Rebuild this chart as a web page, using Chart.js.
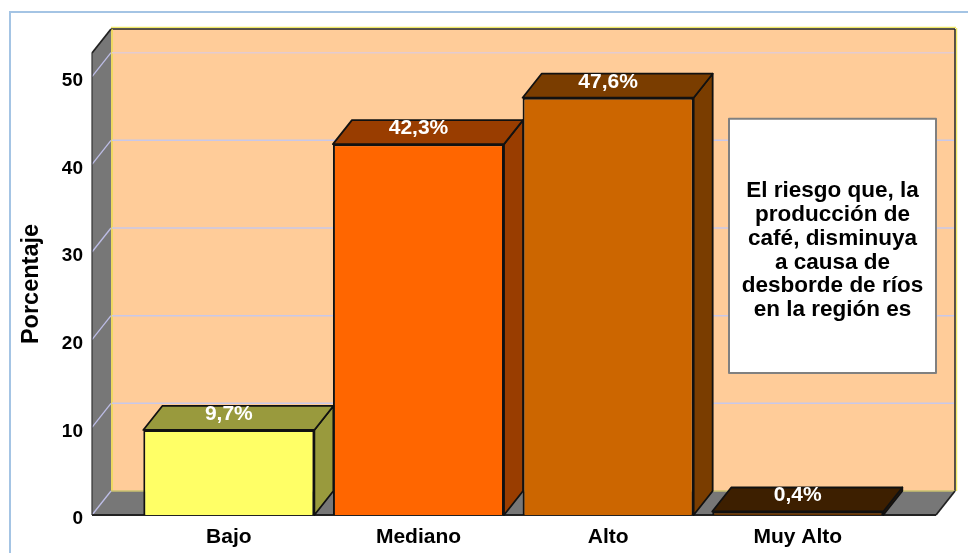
<!DOCTYPE html>
<html>
<head>
<meta charset="utf-8">
<style>
  html, body { margin: 0; padding: 0; background: #fff; overflow: hidden; }
</style>
<script src="https://cdn.jsdelivr.net/npm/chart.js@4"></script>
</head>
<body>
<canvas id="chart" width="968" height="553"></canvas>
<script>
const categories = ["Bajo", "Mediano", "Alto", "Muy Alto"];
const values = [9.7, 42.3, 47.6, 0.4];
const yTicks = [0, 10, 20, 30, 40, 50];
const noteLines = ["El riesgo que, la", "producción de", "café, disminuya", "a causa de", "desborde de ríos", "en la región es"];

const frontColors = ["#FFFF66", "#FF6600", "#CC6600", "#663300"];
const shadeColors = ["#999A3D", "#993D00", "#7A3D00", "#3D1F00"];

const FONT = '"Liberation Sans", Arial, sans-serif';
const DEPTH_X = 19;
const DEPTH_Y = 24;
const INSET_L = 42; // the floor runs a bit past the first and last category
const INSET_R = 43.4;

function poly(ctx, pts, fill, stroke, lw) {
  ctx.beginPath();
  pts.forEach((p, i) => i ? ctx.lineTo(p[0], p[1]) : ctx.moveTo(p[0], p[1]));
  ctx.closePath();
  if (fill) { ctx.fillStyle = fill; ctx.fill(); }
  if (stroke) { ctx.strokeStyle = stroke; ctx.lineWidth = lw || 1.8; ctx.lineJoin = "round"; ctx.stroke(); }
}

function line(ctx, x1, y1, x2, y2, color, lw) {
  ctx.beginPath();
  ctx.moveTo(x1, y1);
  ctx.lineTo(x2, y2);
  ctx.strokeStyle = color;
  ctx.lineWidth = lw;
  ctx.stroke();
}

// page frame, walls, floor and grid
const wallsPlugin = {
  id: "walls",
  beforeDatasetsDraw(chart) {
    const ctx = chart.ctx;
    const area = chart.chartArea;
    const y = chart.scales.y;
    const l = area.left - INSET_L, r = area.right + INSET_R;
    const t = area.top, b = y.getPixelForValue(0);
    ctx.save();

    // frame
    line(ctx, 10, 12, 968, 12, "#A4C4E4", 2);
    line(ctx, 10, 11, 10, 553, "#A4C4E4", 2);

    // back wall
    poly(ctx, [[l + DEPTH_X, t - DEPTH_Y], [r + DEPTH_X, t - DEPTH_Y], [r + DEPTH_X, b - DEPTH_Y], [l + DEPTH_X, b - DEPTH_Y]], "#FFCC99");
    // side wall
    poly(ctx, [[l, t], [l + DEPTH_X, t - DEPTH_Y], [l + DEPTH_X, b - DEPTH_Y], [l, b]], "#777777");
    // floor
    poly(ctx, [[l, b], [l + DEPTH_X, b - DEPTH_Y], [r + DEPTH_X, b - DEPTH_Y], [r, b]], "#777777");

    // wall edges
    line(ctx, l + DEPTH_X, t - DEPTH_Y - 1.5, r + DEPTH_X + 1, t - DEPTH_Y - 1.5, "#F0E868", 1.5);
    line(ctx, r + DEPTH_X + 1.5, t - DEPTH_Y - 1, r + DEPTH_X + 1.5, b - DEPTH_Y, "#F0E868", 1.5);
    line(ctx, l + DEPTH_X, t - DEPTH_Y, r + DEPTH_X, t - DEPTH_Y, "#222222", 1.5);
    line(ctx, r + DEPTH_X, t - DEPTH_Y, r + DEPTH_X, b - DEPTH_Y, "#222222", 1.5);
    line(ctx, l + DEPTH_X + 1, t - DEPTH_Y, l + DEPTH_X + 1, b - DEPTH_Y, "#E8DC50", 1.5);
    line(ctx, l + DEPTH_X, b - DEPTH_Y, r + DEPTH_X, b - DEPTH_Y, "#C8C070", 1.5);

    // grid
    yTicks.forEach(v => {
      const py = y.getPixelForValue(v);
      line(ctx, l, py, l + DEPTH_X, py - DEPTH_Y, "#BDBDE6", 1.3);
      if (v > 0) {
        line(ctx, l + DEPTH_X + 1, py - DEPTH_Y, r + DEPTH_X - 1, py - DEPTH_Y, v === 50 ? "#E4CBD0" : "#C8C8EA", 1.5);
      }
    });

    // outer edges
    line(ctx, l, b, r, b, "#222222", 1.8);
    line(ctx, r, b, r + DEPTH_X, b - DEPTH_Y, "#222222", 1.8);
    line(ctx, l, t, l + DEPTH_X, t - DEPTH_Y, "#222222", 1.8);
    line(ctx, l, t, l, b, "#333333", 1.2);
    ctx.restore();
  }
};

// 3D faces, value labels and the note box
const facesPlugin = {
  id: "faces",
  afterDatasetsDraw(chart) {
    const ctx = chart.ctx;
    const area = chart.chartArea;
    const y = chart.scales.y;
    ctx.save();

    chart.getDatasetMeta(0).data.forEach((bar, i) => {
      const x1 = bar.x - bar.width / 2, x2 = bar.x + bar.width / 2;
      const top = bar.y, base = bar.base;
      poly(ctx, [[x2, top], [x2 + DEPTH_X, top - DEPTH_Y], [x2 + DEPTH_X, base - DEPTH_Y], [x2, base]], shadeColors[i], "#111111");
      poly(ctx, [[x1, top], [x1 + DEPTH_X, top - DEPTH_Y], [x2 + DEPTH_X, top - DEPTH_Y], [x2, top]], shadeColors[i], "#111111");

      ctx.fillStyle = "#ffffff";
      ctx.font = "bold 21px " + FONT;
      ctx.textAlign = "center";
      ctx.textBaseline = "middle";
      ctx.fillText(values[i].toFixed(1).replace(".", ",") + "%", bar.x, top - 16);
    });

    // note box
    const boxR = area.right + INSET_R, boxL = boxR - 207;
    const boxT = y.getPixelForValue(45.2), boxB = y.getPixelForValue(16.2);
    ctx.fillStyle = "#ffffff";
    ctx.strokeStyle = "#808080";
    ctx.lineWidth = 2;
    ctx.fillRect(boxL, boxT, boxR - boxL, boxB - boxT);
    ctx.strokeRect(boxL, boxT, boxR - boxL, boxB - boxT);
    ctx.fillStyle = "#000000";
    ctx.font = "bold 22.5px " + FONT;
    ctx.textAlign = "center";
    ctx.textBaseline = "middle";
    noteLines.forEach((txt, i) => {
      ctx.fillText(txt, (boxL + boxR) / 2, 191 + i * 23.8);
    });
    ctx.restore();
  }
};

new Chart(document.getElementById("chart"), {
  type: "bar",
  data: {
    labels: categories,
    datasets: [{
      data: values,
      backgroundColor: frontColors,
      borderColor: "#111111",
      borderWidth: 2,
      categoryPercentage: 1,
      barPercentage: 0.902
    }]
  },
  plugins: [wallsPlugin, facesPlugin],
  options: {
    responsive: false,
    animation: false,
    devicePixelRatio: 1,
    layout: { padding: { top: 53, right: 75.4, left: 0, bottom: 0 } },
    plugins: { legend: { display: false }, tooltip: { enabled: false }, title: { display: false } },
    scales: {
      x: {
        grid: { display: false, drawTicks: false },
        border: { display: false },
        ticks: { color: "#000000", padding: 10, maxRotation: 0, font: { family: FONT, size: 21, weight: "bold" } },
        afterFit(scale) { scale.height = 38; scale.paddingLeft = 0; scale.paddingRight = 0; }
      },
      y: {
        min: 0,
        max: 52.7,
        grid: { display: false, drawTicks: false },
        border: { display: false },
        ticks: {
          stepSize: 10,
          includeBounds: false,
          padding: 51,
          labelOffset: 4,
          color: "#000000",
          font: { family: FONT, size: 19, weight: "bold" }
        },
        title: {
          display: true,
          text: "Porcentaje",
          color: "#000000",
          padding: 17,
          font: { family: FONT, size: 23.5, weight: "bold" }
        },
        afterFit(scale) { scale.width = 134; scale.paddingTop = 0; scale.paddingBottom = 0; }
      }
    }
  }
});
</script>
</body>
</html>
